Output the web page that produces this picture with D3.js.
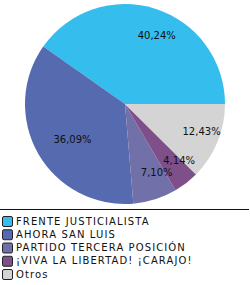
<!DOCTYPE html>
<html>
<head>
<meta charset="utf-8">
<script src="https://cdn.jsdelivr.net/npm/d3@7"></script>
<style>
  body { margin: 0; background: #fff; }
  svg { display: block; font-family: "DejaVu Sans", Verdana, sans-serif; }
</style>
</head>
<body>
<div id="chart"></div>
<script>
document.addEventListener('DOMContentLoaded', function() {
        // Data
        const parties = ["FRENTE JUSTICIALISTA", "AHORA SAN LUIS", "PARTIDO TERCERA POSICIÓN", "¡VIVA LA LIBERTAD! ¡CARAJO!", "Otros"];
        const shares = [40.24, 36.09, 7.10, 4.14, 12.43];
        const colors = ["#35bdee", "#556aaf", "#7270a8", "#7f4f8a", "#d4d4d4"];

        const width = 250, height = 285;
        const cx = 125, cy = 104, radius = 100;

        const svg = d3.select("#chart")
            .append("svg")
            .attr("width", width)
            .attr("height", height);

        const rows = parties.map((p, i) => ({ party: p, value: shares[i], color: colors[i] }));

        // Pie goes counter-clockwise starting at 3 o'clock
        const pie = d3.pie()
            .value(d => d.value)
            .sort(null)
            .startAngle(Math.PI / 2)
            .endAngle(Math.PI / 2 - 2 * Math.PI);

        const arc = d3.arc().innerRadius(0).outerRadius(radius);
        const labelArc = d3.arc().innerRadius(72).outerRadius(72);

        const g = svg.append("g")
            .attr("transform", `translate(${cx},${cy})`);

        g.selectAll(".slice")
            .data(pie(rows))
            .enter().append("path")
            .attr("class", "slice")
            .attr("d", arc)
            .attr("fill", d => d.data.color);

        g.selectAll(".lbl")
            .data(pie(rows))
            .enter().append("text")
            .attr("class", "lbl")
            .attr("x", d => labelArc.centroid(d)[0] + 10)
            .attr("y", d => labelArc.centroid(d)[1])
            .attr("dy", "0.35em")
            .attr("text-anchor", "middle")
            .attr("font-size", "10px")
            .attr("fill", "#111")
            .text(d => d3.format(".2f")(d.data.value).replace(".", ",") + "%");

        // Legend
        svg.append("line")
            .attr("x1", 0).attr("x2", 249)
            .attr("y1", 209.5).attr("y2", 209.5)
            .attr("stroke", "#111")
            .attr("stroke-width", 1);

        const legendY = d3.scalePoint()
            .domain(parties)
            .range([221, 274]);

        const item = svg.selectAll(".legend")
            .data(rows)
            .enter().append("g")
            .attr("class", "legend")
            .attr("transform", d => `translate(0,${legendY(d.party)})`);

        item.append("rect")
            .attr("x", 2.5).attr("y", -4.5)
            .attr("width", 10).attr("height", 10)
            .attr("rx", 1.5)
            .attr("fill", d => d.color)
            .attr("stroke", "#222");

        item.append("text")
            .attr("x", 16)
            .attr("dy", "0.35em")
            .attr("font-size", "10px")
            .attr("letter-spacing", "1.1px")
            .attr("fill", "#111")
            .text(d => d.party);
});
</script>
</body>
</html>
